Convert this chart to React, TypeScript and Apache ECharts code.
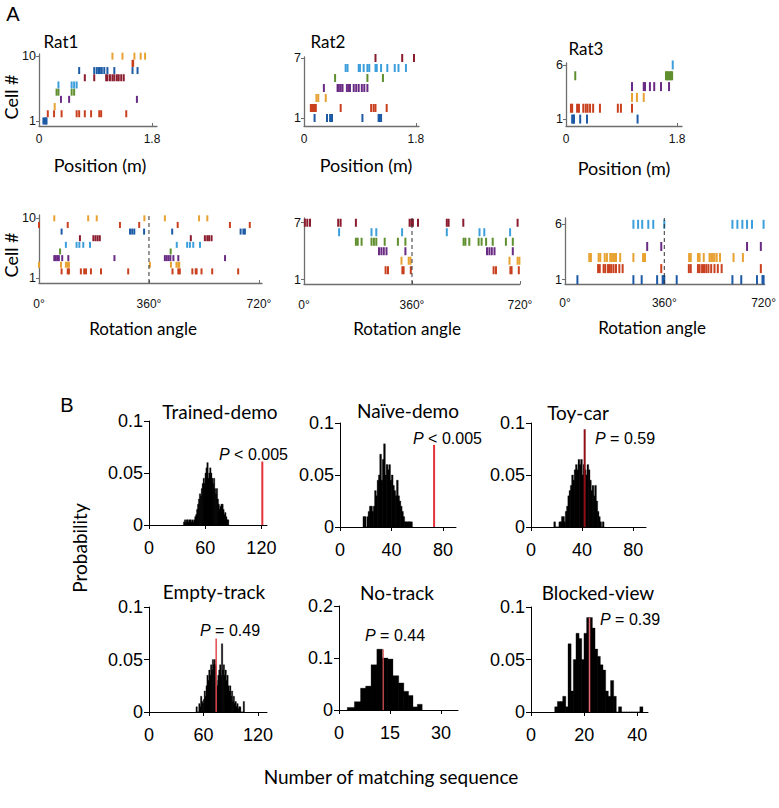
import React, { useEffect, useRef } from "react";
import * as echarts from "echarts";

// ---------------- Panel A: spike rasters (index 0 = cell 1) ----------------
const rat1PositionSpikes = [
  [0.07, 0.09, 0.11, 0.12],
  [0.14, 0.24, 0.36, 0.6, 0.64, 0.73, 0.83, 0.96, 0.99, 1.39],
  [0.25],
  [0.35, 0.48, 1.56],
  [0.28, 0.31, 0.52, 0.56],
  [0.31, 0.52, 0.56, 0.6],
  [0.73, 0.88, 1.07, 1.09, 1.13, 1.17, 1.2, 1.24, 1.27, 1.31, 1.35],
  [0.64, 0.88, 0.92, 0.95, 0.97, 1.0, 1.04, 1.09, 1.2, 1.49, 1.57],
  [1.49, 1.5],
  [1.17, 1.33, 1.52, 1.62, 1.69],
];
const rat2PositionSpikes = [
  [0.17, 0.37, 0.42, 0.45, 0.94, 1.2, 1.22, 1.24],
  [0.11, 0.13, 0.15, 0.17, 0.19, 0.59, 1.08, 1.12, 1.15, 1.33],
  [0.2, 0.23, 0.35],
  [0.32, 0.54, 0.56, 0.59, 0.62, 0.69, 0.72, 0.74, 0.8, 0.84, 0.88, 0.93, 0.97, 1.02],
  [0.5, 1.02, 1.27],
  [0.67, 0.7, 0.88, 0.9, 0.96, 1.02, 1.05, 1.15, 1.17, 1.24, 1.34, 1.46, 1.52, 1.64],
  [1.15, 1.58, 1.77],
];
const rat3PositionSpikes = [
  [0.1, 0.12, 0.13, 0.23, 0.34, 1.16],
  [0.08, 0.1, 0.18, 0.21, 0.28, 0.32, 0.35, 0.39, 0.44, 0.55, 0.84, 0.89, 1.07],
  [1.07, 1.15, 1.26],
  [1.07, 1.26, 1.28, 1.36, 1.43, 1.54, 1.67],
  [0.15, 1.62, 1.64, 1.66, 1.68, 1.7, 1.72],
  [1.73],
];
const rat1RotationSpikes = [
  [],
  [74, 94, 98, 137, 148, 154, 170, 203, 292, 437, 456, 461, 502, 513, 516, 532, 567, 652],
  [0, 72, 88, 94, 98, 363, 432, 450, 456, 459],
  [50, 55, 60, 65, 76, 96, 247, 412, 418, 424, 430, 440, 456, 609],
  [69, 431],
  [88, 123, 132, 145, 167, 451, 485, 494, 505, 527],
  [134, 178, 185, 192, 199, 497, 543, 551, 557, 565],
  [74, 298, 305, 312, 344, 436, 660, 669, 674],
  [0, 94, 265, 328, 454, 625, 690],
  [50, 161, 189, 345, 412, 524, 551],
];
const rat2RotationSpikes = [
  [],
  [272, 280, 328, 332, 356, 632, 640, 688, 692, 716],
  [325, 349, 355, 685, 712, 718],
  [250, 258, 266, 275, 338, 610, 618, 626, 635, 696],
  [173, 179, 192, 225, 233, 241, 269, 313, 338, 532, 538, 551, 582, 592, 607, 629, 673, 696],
  [117, 225, 241, 327, 476, 585, 601, 687],
  [3, 11, 20, 114, 122, 173, 352, 358, 363, 380, 476, 482, 531, 712],
];
const rat3RotationSpikes = [
  [45, 248, 278, 334, 354, 358, 360, 405, 607, 639, 696, 716, 718, 720],
  [120, 126, 140, 146, 156, 162, 168, 176, 185, 197, 209, 349, 449, 456, 482, 488, 497, 504, 512, 520, 530, 542, 554, 568, 710],
  [88, 94, 122, 128, 144, 152, 164, 170, 176, 179, 185, 200, 248, 283, 290, 450, 456, 482, 488, 503, 524, 530, 536, 542, 550, 562, 611, 645],
  [298, 349, 660, 710],
  [],
  [248, 265, 280, 302, 320, 360, 607, 625, 643, 660, 678, 720],
];

const DB = "#1d5ba6", RD = "#c9401e", OR = "#e8a232", PU = "#6a2b84", GR = "#5f8f2e", LB = "#3c9fdb", MR = "#8a1c2e";
const rat1CellColors = [DB, RD, OR, PU, GR, LB, MR, DB, RD, OR];
const rat2CellColors = [DB, RD, OR, PU, GR, LB, MR];
const rat3CellColors = [DB, RD, OR, PU, GR, LB];

const ratNames = ["Rat1", "Rat2", "Rat3"];
const positionTicks = [0, 1.8];
const angleTicks = [0, 360, 720];
const cellTicks = [[1, 10], [1, 7], [1, 6]];

// ---------------- Panel B: shuffled distributions ----------------
const trainedDemoStart = 37;
const trainedDemoProb = [0.003, 0.005, 0.003, 0.005, 0.005, 0.003, 0.005, 0.005, 0.003, 0.005, 0.003, 0.005, 0.008, 0.01, 0.015, 0.02, 0.025, 0.03, 0.028, 0.035, 0.04, 0.045, 0.04, 0.05, 0.055, 0.06, 0.045, 0.05, 0.055, 0.05, 0.045, 0.04, 0.045, 0.035, 0.03, 0.035, 0.025, 0.02, 0.015, 0.018, 0.02, 0.02, 0.015, 0.01, 0.012, 0.008, 0.005, 0.005];
const naiveDemoStart = 18;
const naiveDemoProb = [0.01, 0.01, 0, 0.01, 0.015, 0.02, 0.02, 0.015, 0.02, 0.035, 0.03, 0.045, 0.05, 0.07, 0.045, 0.065, 0.08, 0.05, 0.06, 0.055, 0.06, 0.045, 0.05, 0.04, 0.035, 0.03, 0.045, 0.03, 0.025, 0.02, 0.015, 0.01, 0.005, 0.005, 0.005, 0.005, 0.005, 0.005];
const toyCarStart = 18;
const toyCarProb = [0.005, 0, 0, 0, 0.005, 0.005, 0.01, 0.01, 0.005, 0.015, 0.02, 0.03, 0.035, 0.04, 0.05, 0.045, 0.055, 0.06, 0.055, 0.065, 0.06, 0.065, 0.05, 0.06, 0.055, 0.05, 0.06, 0.055, 0.045, 0.035, 0.04, 0.03, 0.04, 0.025, 0.015, 0.01, 0.005, 0, 0.005];
const emptyTrackStart = 52;
const emptyTrackProb = [0.005, 0, 0, 0.008, 0.005, 0.015, 0.01, 0.008, 0.012, 0.02, 0.015, 0.025, 0.035, 0.03, 0.04, 0.035, 0.045, 0.04, 0.05, 0.045, 0.05, 0.045, 0.03, 0.025, 0.035, 0.04, 0.045, 0.035, 0.065, 0.04, 0.045, 0.035, 0.04, 0.03, 0.035, 0.025, 0.02, 0.025, 0.015, 0.02, 0.01, 0.015, 0.008, 0.01, 0.005, 0.008, 0.003, 0.005, 0.005, 0, 0, 0, 0.01];
const noTrackEdges = [2.5, 4.6, 6.4, 7.9, 9.5, 11.2, 12.7, 14.3, 15.8, 17.5, 19.0, 20.4, 21.7, 23.1, 24.4];
const noTrackProb = [0.005, 0.016, 0.042, 0.046, 0.087, 0.117, 0.1, 0.098, 0.066, 0.052, 0.036, 0.028, 0.006, 0.011];
const blockedViewStart = 9;
const blockedViewProb = [0.005, 0.01, 0.01, 0.015, 0.005, 0.065, 0.02, 0.05, 0.075, 0.07, 0.05, 0.075, 0.09, 0.09, 0.08, 0.06, 0.053, 0.045, 0.04, 0.02, 0.015, 0.03, 0.015, 0, 0.005, 0, 0, 0, 0, 0, 0, 0, 0.005];

const conditionTitles = ["Trained-demo", "Naïve-demo", "Toy-car", "Empty-track", "No-track", "Blocked-view"];
const observedValues = [121, 73, 42, 74, 13, 22];
const observedTops = [0.061, 0.079, 0.094, 0.07, 0.117, 0.09];
const pRelations = ["<", "<", "=", "=", "=", "="];
const pNumbers = ["0.005", "0.005", "0.59", "0.49", "0.44", "0.39"];
const histXTicks = [[0, 60, 120], [0, 40, 80], [0, 40, 80], [0, 60, 120], [0, 15, 30], [0, 20, 40]];
const histYTicks = [[0, 0.05, 0.1], [0, 0.05, 0.1], [0, 0.05, 0.1], [0, 0.05, 0.1], [0, 0.1, 0.2], [0, 0.05, 0.1]];

const NUM = '"Liberation Sans", Arial, sans-serif';
const TXT = 'Lato, "Open Sans", sans-serif';

function unitBins(start: number, probs: number[]) {
  return probs.map((p, i) => [start + i, start + i + 1, p]);
}
function edgeBins(edges: number[], probs: number[]) {
  return probs.map((p, i) => [edges[i], edges[i + 1], p]);
}

function buildOption() {
  const grid: any[] = [];
  const xAxis: any[] = [];
  const yAxis: any[] = [];
  const series: any[] = [];
  const graphic: any[] = [];

  const rasterSets = [
    { spikes: rat1PositionSpikes, colors: rat1CellColors, ticks: positionTicks, yt: cellTicks[0], L: { left: 39, top: 54, width: 118, height: 72 }, xMax: 1.88, yMin: 0.3, yMax: 10.3, h: 7, m: 7, angle: false },
    { spikes: rat2PositionSpikes, colors: rat2CellColors, ticks: positionTicks, yt: cellTicks[1], L: { left: 304, top: 57, width: 115, height: 69 }, xMax: 1.85, yMin: 0.2, yMax: 7.1, h: 8, m: 7, angle: false },
    { spikes: rat3PositionSpikes, colors: rat3CellColors, ticks: positionTicks, yt: cellTicks[2], L: { left: 566, top: 63, width: 116, height: 63 }, xMax: 1.88, yMin: 0.36, yMax: 6.18, h: 9, m: 7, angle: false },
    { spikes: rat1RotationSpikes, colors: rat1CellColors, ticks: angleTicks, yt: cellTicks[0], L: { left: 39, top: 215, width: 223, height: 68 }, xMax: 730, yMin: 0.25, yMax: 10.5, h: 6, m: 15, angle: true },
    { spikes: rat2RotationSpikes, colors: rat2CellColors, ticks: angleTicks, yt: cellTicks[1], L: { left: 304, top: 218, width: 216, height: 66 }, xMax: 720, yMin: 0.55, yMax: 7.5, h: 8, m: 15, angle: true },
    { spikes: rat3RotationSpikes, colors: rat3CellColors, ticks: angleTicks, yt: cellTicks[2], L: { left: 565, top: 218, width: 203, height: 66 }, xMax: 724, yMin: 0.61, yMax: 6.57, h: 9, m: 13, angle: true },
  ];

  rasterSets.forEach((r) => {
    const gi = grid.length;
    grid.push({ ...r.L });
    xAxis.push({
      type: "value", gridIndex: gi, min: 0, max: r.xMax,
      axisLine: { lineStyle: { color: "#6e6e6e", width: 1.3 } },
      axisTick: { show: true, inside: true, length: 3, customValues: r.ticks, lineStyle: { color: "#6e6e6e" } },
      axisLabel: { customValues: r.ticks, margin: r.m, color: "#111", fontFamily: NUM, fontSize: 12, formatter: (v: number) => (r.angle ? v + "°" : String(v)) },
      splitLine: { show: false },
    });
    yAxis.push({
      type: "value", gridIndex: gi, min: r.yMin, max: r.yMax,
      axisLine: { show: true, lineStyle: { color: "#6e6e6e", width: 1.3 } },
      axisTick: { show: true, length: 3, customValues: r.yt, lineStyle: { color: "#6e6e6e" } },
      axisLabel: { customValues: r.yt, margin: 3, color: "#111", fontFamily: NUM, fontSize: 12.5 },
      splitLine: { show: false },
    });
    const data: any[] = [];
    r.spikes.forEach((list, ci) => {
      list.forEach((x) => data.push({ value: [x, ci + 1], itemStyle: { color: r.colors[ci] } }));
    });
    series.push({
      type: "scatter", xAxisIndex: gi, yAxisIndex: gi, symbol: "rect", symbolSize: [2, r.h],
      itemStyle: { opacity: 1 }, data, silent: true, z: 3,
    });
    if (r.angle) {
      series.push({
        type: "line", xAxisIndex: gi, yAxisIndex: gi, symbol: "none", silent: true, z: 4,
        lineStyle: { color: "#333", width: 1, type: [4, 3] },
        data: [[360, r.yMin], [360, r.yMax]],
      });
    }
  });

  const histSets = [
    { bins: unitBins(trainedDemoStart, trainedDemoProb), L: { left: 149, top: 421, width: 118, height: 104 }, xMax: 126, yMax: 0.1, red: "#e5333b", rw: 2 },
    { bins: unitBins(naiveDemoStart, naiveDemoProb), L: { left: 340, top: 423, width: 116, height: 104 }, xMax: 90, yMax: 0.1, red: "#e5333b", rw: 2 },
    { bins: unitBins(toyCarStart, toyCarProb), L: { left: 531, top: 423, width: 115, height: 104 }, xMax: 90, yMax: 0.1, red: "#8e0f14", rw: 2 },
    { bins: unitBins(emptyTrackStart, emptyTrackProb), L: { left: 149, top: 607, width: 118, height: 105 }, xMax: 130, yMax: 0.1, red: "#e24a4f", rw: 1.5 },
    { bins: edgeBins(noTrackEdges, noTrackProb), L: { left: 339, top: 606, width: 119, height: 104 }, xMax: 35, yMax: 0.2, red: "#e0555a", rw: 1.2 },
    { bins: unitBins(blockedViewStart, blockedViewProb), L: { left: 531, top: 607, width: 117, height: 105 }, xMax: 44, yMax: 0.1, red: "#e86a74", rw: 1.5 },
  ];

  histSets.forEach((h, k) => {
    const gi = grid.length;
    grid.push({ ...h.L });
    xAxis.push({
      type: "value", gridIndex: gi, min: 0, max: h.xMax,
      axisLine: { lineStyle: { color: "#000", width: 1 } },
      axisTick: { show: true, length: 4, customValues: histXTicks[k], lineStyle: { color: "#000" } },
      axisLabel: { customValues: histXTicks[k], margin: 14, color: "#000", fontFamily: NUM, fontSize: 18 },
      splitLine: { show: false },
    });
    yAxis.push({
      type: "value", gridIndex: gi, min: 0, max: h.yMax,
      axisLine: { show: true, lineStyle: { color: "#000", width: 1 } },
      axisTick: { show: true, length: 5, customValues: histYTicks[k], lineStyle: { color: "#000" } },
      axisLabel: { customValues: histYTicks[k], margin: 6, color: "#000", fontFamily: NUM, fontSize: 18 },
      splitLine: { show: false },
    });
    series.push({
      type: "custom", xAxisIndex: gi, yAxisIndex: gi, silent: true, z: 2,
      encode: { x: [0, 1], y: 2 },
      data: h.bins,
      renderItem: (params: any, api: any) => {
        const a = api.coord([api.value(0), 0]);
        const b = api.coord([api.value(1), api.value(2)]);
        return {
          type: "rect",
          shape: { x: a[0] - 0.25, y: b[1], width: Math.max(b[0] - a[0], 0.8) + 0.5, height: a[1] - b[1] },
          style: { fill: "#000", stroke: "#000", lineWidth: 0.3 },
        };
      },
    });
    series.push({
      type: "line", xAxisIndex: gi, yAxisIndex: gi, symbol: "none", silent: true, z: 5,
      lineStyle: { color: h.red, width: h.rw },
      data: [[observedValues[k], 0], [observedValues[k], observedTops[k]]],
    });
  });

  const txt = (text: string, x: number, y: number, size: number, family: string, extra: any = {}) => ({
    type: "text", x, y, silent: true, z: 10, ...extra,
    style: { text, fontSize: size, fontFamily: family, fill: "#000", align: "center", verticalAlign: "middle", ...(extra.style || {}) },
  });

  graphic.push(txt("A", 13, 14, 20, NUM));
  graphic.push(txt("B", 67, 405, 20, NUM));
  const ratTitlePos = [[61, 41], [328, 41], [586, 48]];
  ratNames.forEach((n, i) => graphic.push(txt(n, ratTitlePos[i][0], ratTitlePos[i][1], 17, TXT)));
  graphic.push(txt("Cell #", 11, 97, 18, TXT, { rotation: Math.PI / 2 }));
  graphic.push(txt("Cell #", 11, 255, 18, TXT, { rotation: Math.PI / 2 }));
  const posLabelX = [[100, 165], [366, 165], [624, 168]];
  posLabelX.forEach((p) => graphic.push(txt("Position (m)", p[0], p[1], 18, TXT)));
  const rotLabelX = [[143, 328], [407, 328], [652, 327]];
  rotLabelX.forEach((p) => graphic.push(txt("Rotation angle", p[0], p[1], 17, TXT)));

  const titlePos = [[220, 411], [408, 410], [578, 412], [214, 591], [397, 592], [598, 592]];
  conditionTitles.forEach((t, i) => graphic.push(txt(t, titlePos[i][0], titlePos[i][1], 19, TXT)));

  const pPos = [[219, 454], [413, 438], [595, 438], [200, 630], [365, 635], [600, 619]];
  pNumbers.forEach((num, i) => {
    graphic.push({
      type: "text", x: pPos[i][0], y: pPos[i][1], silent: true, z: 10,
      style: {
        text: "{i|P}{n| " + pRelations[i] + " " + num + "}",
        align: "left", verticalAlign: "middle",
        rich: {
          i: { fontSize: 16, fontFamily: NUM, fontStyle: "italic", fill: "#000" },
          n: { fontSize: 16, fontFamily: NUM, fill: "#000" },
        },
      },
    });
  });

  graphic.push(txt("Probability", 79, 548, 19, TXT, { rotation: Math.PI / 2 }));
  graphic.push(txt("Number of matching sequence", 391, 776, 19, TXT));

  return { animation: false, backgroundColor: "#fff", grid, xAxis, yAxis, series, graphic };
}

export default function App() {
  const ref = useRef<HTMLDivElement>(null);
  useEffect(() => {
    const chart = echarts.init(ref.current!, null, { renderer: "svg" });
    chart.setOption(buildOption() as any);
    return () => chart.dispose();
  }, []);
  return <div ref={ref} style={{ position: "absolute", left: 0, top: 0, width: 779, height: 808, background: "#fff" }} />;
}
